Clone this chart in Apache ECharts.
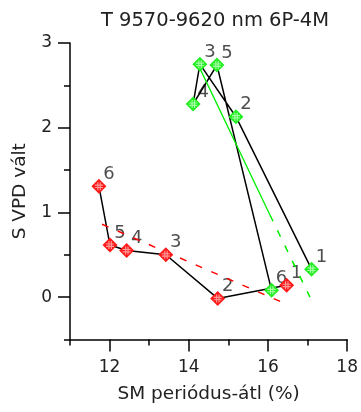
<!DOCTYPE html>
<html>
<head>
<meta charset="utf-8">
<script src="https://cdn.jsdelivr.net/npm/echarts@6/dist/echarts.min.js"></script>
<style>html,body{margin:0;padding:0;background:#fff}#c{width:361px;height:412px}</style>
</head>
<body>
<div id="c"></div>
<script>
// Data
var redX = [16.47, 14.73, 13.42, 12.43, 12.01, 11.73];
var redY = [0.14, -0.015, 0.50, 0.55, 0.615, 1.31];
var redLabels = ['1', '2', '3', '4', '5', '6'];
var greenX = [17.10, 15.19, 14.28, 14.11, 14.71, 16.09];
var greenY = [0.33, 2.13, 2.75, 2.28, 2.74, 0.08];
var greenLabels = ['1', '2', '3', '4', '5', '6'];
// Fitted trend lines (endpoints as drawn)
var redTrendX = [11.81, 16.43];
var redTrendY = [0.86, -0.075];
var greenTrendSolidX = [14.25, 16.05];
var greenTrendSolidY = [2.73, 0.97];
var greenTrendDashX = [16.05, 17.06];
var greenTrendDashY = [0.97, 0.0];
// Ticks
var xMajorTicks = [12, 14, 16, 18];
var xMinorTicks = [11, 13, 15, 17];
var yMajorTicks = [0, 1, 2, 3];
var yMinorTicks = [-0.5, 0.5, 1.5, 2.5];
var titleText = 'T 9570-9620 nm 6P-4M';
var xName = 'SM periódus-átl (%)';
var yName = 'S VPD vált';

function pairs(xs, ys) { return xs.map(function (x, i) { return [x, ys[i]]; }); }
function labeled(xs, ys, ls) { return xs.map(function (x, i) { return { value: [x, ys[i]], name: ls[i] }; }); }

var FONT = 'DejaVu Sans';
var hashPath = 'path://M3,0h1.4v10h-1.4zM6,0h1.4v10h-1.4zM0,3h10v1.4h-10zM0,6h10v1.4h-10z';

var chart = echarts.init(document.getElementById('c'), null, { renderer: 'canvas' });
var axisLine = { show: true, onZero: false, lineStyle: { color: '#000', width: 1.5 } };
var option = {
  animation: false,
  backgroundColor: '#fff',
  title: {
    text: titleText, left: 210, top: 6, textAlign: 'center',
    textStyle: { fontFamily: FONT, fontSize: 19.5, fontWeight: 'normal', color: '#222' }
  },
  grid: { left: 70, right: 12, top: 43, bottom: 72.5 },
  xAxis: [{
    type: 'value', min: 11, max: 18, position: 'bottom',
    name: xName, nameLocation: 'middle', nameGap: 45,
    nameTextStyle: { fontFamily: FONT, fontSize: 18.5, color: '#222' },
    axisLine: axisLine,
    axisTick: { show: true, length: 12, customValues: xMajorTicks, lineStyle: { color: '#000', width: 1.5 } },
    axisLabel: { customValues: xMajorTicks, margin: 20, fontFamily: FONT, fontSize: 17, color: '#222' },
    splitLine: { show: false }
  }, {
    type: 'value', min: 11, max: 18, position: 'bottom',
    axisLine: { show: false, onZero: false },
    axisTick: { show: true, length: 6, customValues: xMinorTicks, lineStyle: { color: '#000', width: 1.5 } },
    axisLabel: { show: false },
    splitLine: { show: false }
  }],
  yAxis: [{
    type: 'value', min: -0.5, max: 3, position: 'left',
    name: yName, nameLocation: 'middle', nameGap: 40, nameRotate: 90,
    nameTextStyle: { fontFamily: FONT, fontSize: 18.5, color: '#222' },
    axisLine: axisLine,
    axisTick: { show: true, length: 12, customValues: yMajorTicks, lineStyle: { color: '#000', width: 1.5 } },
    axisLabel: { customValues: yMajorTicks, margin: 18, fontFamily: FONT, fontSize: 17, color: '#222' },
    splitLine: { show: false }
  }, {
    type: 'value', min: -0.5, max: 3, position: 'left',
    axisLine: { show: false, onZero: false },
    axisTick: { show: true, length: 6, customValues: yMinorTicks, lineStyle: { color: '#000', width: 1.5 } },
    axisLabel: { show: false },
    splitLine: { show: false }
  }],
  series: [
    // point labels (drawn beneath the lines)
    {
      type: 'scatter', z: 1, symbolSize: 1, itemStyle: { color: 'rgba(0,0,0,0)' },
      data: labeled(redX, redY, redLabels),
      label: { show: true, formatter: '{b}', position: 'inside', offset: [10, -12], fontFamily: FONT, fontSize: 18, color: '#222' },
      silent: true
    },
    {
      type: 'scatter', z: 1, symbolSize: 1, itemStyle: { color: 'rgba(0,0,0,0)' },
      data: labeled(greenX, greenY, greenLabels),
      label: { show: true, formatter: '{b}', position: 'inside', offset: [10, -12], fontFamily: FONT, fontSize: 18, color: '#222' },
      silent: true
    },
    // connecting lines
    {
      type: 'line', z: 2, showSymbol: false, symbol: 'none',
      data: pairs(redX, redY), lineStyle: { color: '#000', width: 1.5 }
    },
    {
      type: 'line', z: 2, showSymbol: false, symbol: 'none',
      data: pairs(greenX, greenY), lineStyle: { color: '#000', width: 1.5 }
    },
    // trend lines
    {
      type: 'line', z: 2, showSymbol: false, symbol: 'none',
      data: pairs(redTrendX, redTrendY),
      lineStyle: { color: '#ff0000', width: 1.5, type: [7, 10] }
    },
    {
      type: 'line', z: 2, showSymbol: false, symbol: 'none',
      data: pairs(greenTrendSolidX, greenTrendSolidY),
      lineStyle: { color: '#00ee00', width: 1.3 }
    },
    {
      type: 'line', z: 2, showSymbol: false, symbol: 'none',
      data: pairs(greenTrendDashX, greenTrendDashY),
      lineStyle: { color: '#00ee00', width: 1.5, type: [7, 10] }
    },
    // markers
    {
      type: 'scatter', z: 3, symbol: 'diamond', symbolSize: 15,
      data: pairs(redX, redY), itemStyle: { color: '#ff1a1a', opacity: 1 }
    },
    {
      type: 'scatter', z: 3, symbol: 'diamond', symbolSize: 15,
      data: pairs(greenX, greenY), itemStyle: { color: '#22ee22', opacity: 1 }
    },
    {
      type: 'scatter', z: 4, symbol: hashPath, symbolSize: 8,
      data: pairs(redX, redY), itemStyle: { color: '#ff9a9a', opacity: 1 }, silent: true
    },
    {
      type: 'scatter', z: 4, symbol: hashPath, symbolSize: 8,
      data: pairs(greenX, greenY), itemStyle: { color: '#a8ffa8', opacity: 1 }, silent: true
    }
  ]
};
chart.setOption(option);
</script>
</body>
</html>
